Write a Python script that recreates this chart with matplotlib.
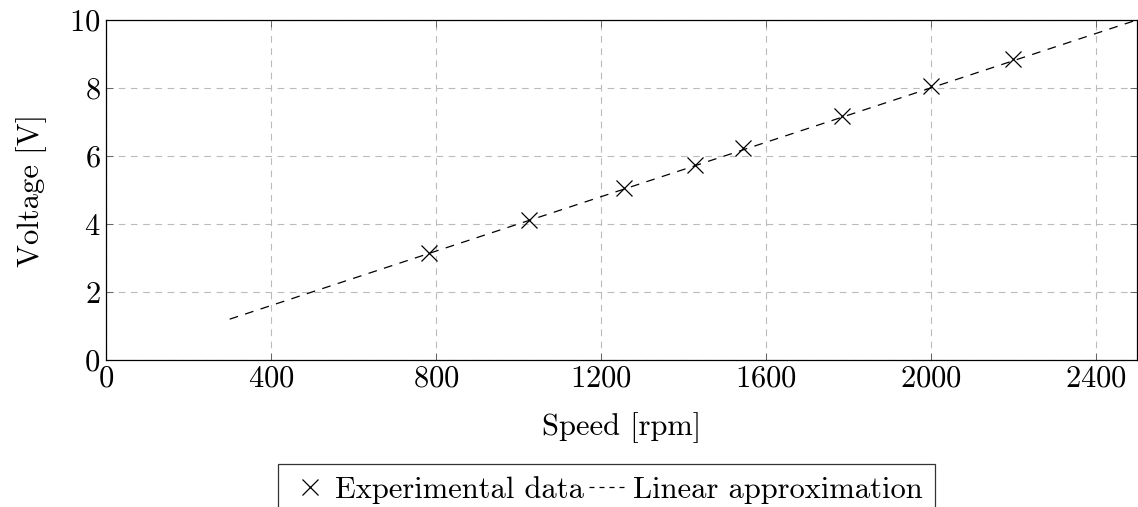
import numpy as np
import matplotlib.pyplot as plt
from matplotlib.lines import Line2D

# ---------------------------------------------------------------------
# DATA
# ---------------------------------------------------------------------
speed_rpm = [783, 1026, 1256, 1428, 1545, 1786, 2000, 2200]
voltage_v = [3.14, 4.12, 5.05, 5.73, 6.23, 7.19, 8.06, 8.86]

fit_speed = [300, 2500]
fit_voltage = [1.2, 10.0]

x_ticks = [0, 400, 800, 1200, 1600, 2000, 2400]
y_ticks = [0, 2, 4, 6, 8, 10]

# ---------------------------------------------------------------------
# STYLE (LaTeX / pgfplots look)
# ---------------------------------------------------------------------
plt.rcParams["font.family"] = "serif"
plt.rcParams["font.serif"] = ["cmr10"]
plt.rcParams["mathtext.fontset"] = "cm"
plt.rcParams["axes.formatter.use_mathtext"] = True

fig = plt.figure(figsize=(11.38, 5.07), dpi=100)
ax = fig.add_axes([0.0931, 0.290, 0.9059, 0.6706])

ax.plot(fit_speed, fit_voltage, color="black", linestyle=(0, (7, 6)),
        linewidth=0.9)
ax.plot(speed_rpm, voltage_v, linestyle="none", marker="x", color="black",
        markersize=11, markeredgewidth=0.9)

ax.set_xlim(0, 2500)
ax.set_ylim(0, 10)
ax.set_xticks(x_ticks)
ax.set_yticks(y_ticks)
ax.tick_params(direction="in", length=5, width=0.6, color="#555555",
               top=True, right=True, labelsize=22, pad=4)
ax.grid(True, color="#bbbbbb", linestyle=(0, (6, 5)), linewidth=0.8)
for s in ax.spines.values():
    s.set_linewidth(0.9)

ax.set_xlabel("Speed [rpm]", fontsize=22, labelpad=14)
ax.set_ylabel("Voltage [V]", fontsize=22, labelpad=16)

# legend proxies (pgfplots-style short legend images)
h_data = Line2D([], [], linestyle="none", marker="x", color="black",
                markersize=11, markeredgewidth=0.9)
h_fit = Line2D([], [], color="black", linestyle=(0, (4, 4)), linewidth=0.9)
leg = fig.legend([h_data, h_fit], ["Experimental data", "Linear approximation"],
                 loc="upper center", bbox_to_anchor=(0.533, 0.0848), ncol=2,
                 fontsize=22, frameon=True, fancybox=False, edgecolor="black",
                 handlelength=1.25, handletextpad=0.2, columnspacing=0.15,
                 borderpad=0.4, borderaxespad=0)
leg.get_frame().set_linewidth(0.9)

fig.savefig("out.png", dpi=100)
